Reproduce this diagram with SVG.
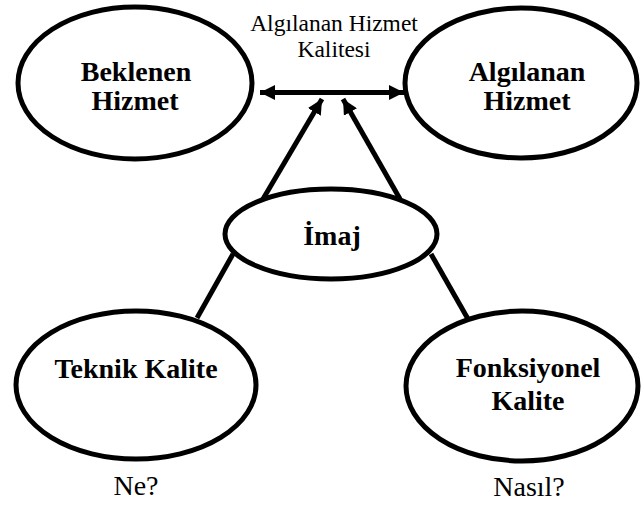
<svg xmlns="http://www.w3.org/2000/svg" width="643" height="505" viewBox="0 0 643 505">
  <style>
    .node { fill: #ffffff; stroke: #000000; stroke-width: 5; }
    .title { font-weight: bold; font-size: 28px; fill: #000000; text-anchor: middle; }
    .note { font-size: 23.5px; fill: #000000; text-anchor: middle; }
    .answer { font-size: 28px; fill: #000000; text-anchor: middle; }
    .link { fill: none; stroke: #000000; stroke-width: 5; }
  </style>
  <defs>
    <marker id="head" viewBox="0 0 10 10" refX="10" refY="5" markerUnits="userSpaceOnUse" markerWidth="15" markerHeight="15" orient="auto-start-reverse">
      <path d="M0,0 L10,5 L0,10 z" fill="#000000"/>
    </marker>
  </defs>

  <!-- connectors -->
  <g id="connectors">
    <line class="link" x1="260" y1="92.5" x2="404" y2="92.5" marker-start="url(#head)" marker-end="url(#head)"/>
    <line class="link" x1="263" y1="199" x2="322" y2="99" marker-end="url(#head)"/>
    <line class="link" x1="400" y1="199" x2="343" y2="99" marker-end="url(#head)"/>
    <line class="link" x1="233" y1="254" x2="197" y2="318"/>
    <line class="link" x1="431" y1="254" x2="468" y2="319"/>
  </g>

  <g font-family="Liberation Serif, Times New Roman, serif">
    <!-- caption for the double arrow -->
    <g id="caption">
      <text class="note" x="334" y="31">Algılanan Hizmet</text>
      <text class="note" x="334" y="57">Kalitesi</text>
    </g>

    <g id="beklenen">
      <ellipse class="node" cx="135" cy="83" rx="117" ry="76"/>
      <text class="title" x="136" y="81">Beklenen</text>
      <text class="title" x="135" y="110">Hizmet</text>
    </g>

    <g id="algilanan">
      <ellipse class="node" cx="521" cy="83" rx="116" ry="75"/>
      <text class="title" x="527" y="81">Algılanan</text>
      <text class="title" x="527" y="110">Hizmet</text>
    </g>

    <g id="imaj">
      <ellipse class="node" cx="331" cy="234" rx="106" ry="45"/>
      <text class="title" x="332" y="245">İmaj</text>
    </g>

    <g id="teknik">
      <ellipse class="node" cx="136" cy="385" rx="120" ry="74"/>
      <text class="title" x="136" y="378">Teknik Kalite</text>
      <text class="answer" x="136" y="495">Ne?</text>
    </g>

    <g id="fonksiyonel">
      <ellipse class="node" cx="522" cy="386" rx="116" ry="75"/>
      <text class="title" x="528" y="377">Fonksiyonel</text>
      <text class="title" x="528" y="410">Kalite</text>
      <text class="answer" x="529" y="496">Nasıl?</text>
    </g>
  </g>
</svg>
